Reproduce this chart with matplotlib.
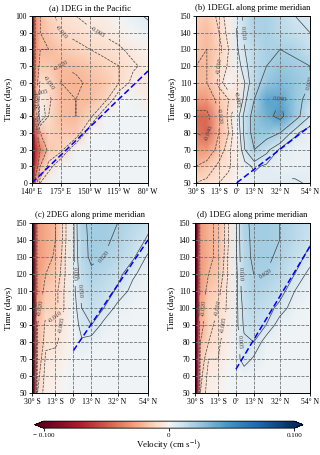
import matplotlib
matplotlib.use('Agg')
import matplotlib.pyplot as plt
from matplotlib.colors import ListedColormap
import numpy as np

plt.rcParams['font.family'] = ['Liberation Serif', 'DejaVu Serif']
plt.rcParams['mathtext.fontset'] = 'stix'

# ---- data (velocity in cm/s on a coarse grid) ----
lon_a = [140, 141.5, 144, 150, 160, 175, 193, 210, 228, 245, 262, 280]
days_a = [0, 10, 20, 30, 40, 50, 60, 70, 80, 90, 100]
vel_a = [
    [-0.15, -0.12, -0.03, -0.005, 0.001, 0.001, 0.001, 0.001, 0.001, 0.001, 0.001, 0.001],
    [-0.15, -0.12, -0.06, -0.02, -0.008, 0.001, 0.001, 0.001, 0.001, 0.001, 0.001, 0.001],
    [-0.15, -0.12, -0.07, -0.04, -0.015, -0.012, 0.001, 0.001, 0.001, 0.001, 0.001, 0.001],
    [-0.15, -0.12, -0.05, -0.02, -0.012, -0.015, -0.015, 0.000, 0.001, 0.001, 0.001, 0.001],
    [-0.15, -0.12, -0.03, 0.003, -0.01, -0.018, -0.02, -0.012, 0.001, 0.001, 0.001, 0.001],
    [-0.15, -0.12, -0.03, -0.003, -0.008, -0.018, -0.02, -0.018, -0.012, 0.000, 0.001, -0.003],
    [-0.15, -0.12, -0.03, -0.008, -0.01, -0.02, -0.022, -0.018, -0.015, -0.01, -0.003, -0.004],
    [-0.15, -0.12, -0.035, -0.015, -0.015, -0.02, -0.018, -0.015, -0.012, -0.01, -0.006, -0.003],
    [-0.15, -0.12, -0.035, -0.02, -0.02, -0.015, -0.012, -0.01, -0.008, -0.006, -0.003, -0.001],
    [-0.15, -0.12, -0.035, -0.02, -0.015, -0.01, -0.008, -0.006, -0.004, -0.002, 0.000, 0.002],
    [-0.15, -0.12, -0.035, -0.02, -0.012, -0.008, -0.005, -0.003, -0.002, 0.000, 0.003, 0.006],
]
front_a = ([140, 280], [0, 67])

lat_b = [-30, -22, -13, -6, 0, 6, 13, 22, 32, 43, 54]
days_b = [50, 60, 70, 80, 90, 100, 110, 120, 130, 140, 150]
vel_b = [
    [-0.01, -0.008, -0.005, -0.003, 0.0, 0.002, 0.003, 0.004, 0.006, 0.006, 0.004],
    [-0.02, -0.015, -0.008, -0.006, -0.002, 0.003, 0.006, 0.004, 0.002, 0.002, 0.002],
    [-0.03, -0.03, -0.015, -0.006, -0.002, 0.01, 0.02, 0.012, 0.004, 0.002, 0.002],
    [-0.04, -0.045, -0.02, -0.01, 0.0, 0.012, 0.025, 0.025, 0.02, 0.006, 0.002],
    [-0.045, -0.045, -0.02, -0.008, 0.002, 0.012, 0.025, 0.035, 0.045, 0.025, 0.01],
    [-0.03, -0.03, -0.015, -0.01, -0.005, 0.008, 0.02, 0.04, 0.04, 0.025, 0.015],
    [-0.02, -0.02, -0.008, 0.0, -0.004, 0.005, 0.015, 0.025, 0.03, 0.025, 0.02],
    [-0.02, -0.02, -0.01, -0.004, 0.002, 0.008, 0.015, 0.02, 0.025, 0.022, 0.02],
    [-0.015, -0.02, -0.012, -0.005, 0.004, 0.01, 0.015, 0.02, 0.02, 0.018, 0.012],
    [-0.015, -0.018, -0.01, -0.003, 0.005, 0.012, 0.018, 0.02, 0.015, 0.012, 0.01],
    [-0.012, -0.015, -0.008, -0.002, 0.005, 0.012, 0.02, 0.02, 0.015, 0.01, 0.008],
]
front_b = ([0, 54], [50, 84])

lat_cd = [-30, -28.5, -26, -20, -13, -6, 0, 6, 13, 22, 32, 43, 54]
days_cd = [50, 60, 70, 80, 90, 100, 110, 120, 130, 140, 150]
vel_c = [
    [-0.15, -0.1, -0.01, -0.002, -0.001, 0.0, 0.001, 0.001, 0.001, 0.001, 0.001, 0.001, 0.001],
    [-0.15, -0.1, -0.012, -0.003, -0.002, 0.0, 0.001, 0.001, 0.001, 0.001, 0.001, 0.001, 0.001],
    [-0.15, -0.1, -0.015, -0.004, -0.003, -0.001, 0.001, 0.001, 0.001, 0.001, 0.001, 0.001, 0.001],
    [-0.15, -0.1, -0.02, -0.006, -0.006, -0.002, 0.0, 0.004, 0.002, 0.001, 0.001, 0.001, 0.001],
    [-0.15, -0.1, -0.02, -0.008, -0.008, -0.003, 0.0, 0.008, 0.01, 0.003, 0.001, 0.001, 0.001],
    [-0.15, -0.1, -0.025, -0.012, -0.012, -0.004, 0.002, 0.01, 0.012, 0.01, 0.003, 0.001, 0.001],
    [-0.15, -0.1, -0.03, -0.015, -0.012, -0.004, 0.003, 0.012, 0.015, 0.013, 0.009, 0.003, 0.001],
    [-0.15, -0.1, -0.03, -0.02, -0.015, -0.005, 0.003, 0.014, 0.018, 0.016, 0.012, 0.006, 0.002],
    [-0.15, -0.1, -0.03, -0.025, -0.018, -0.005, 0.004, 0.016, 0.022, 0.02, 0.016, 0.011, 0.004],
    [-0.15, -0.1, -0.03, -0.025, -0.02, -0.006, 0.004, 0.017, 0.022, 0.022, 0.018, 0.014, 0.009],
    [-0.15, -0.1, -0.03, -0.025, -0.02, -0.006, 0.004, 0.018, 0.022, 0.022, 0.02, 0.016, 0.012],
]
front_c = ([0, 54], [75, 140])
vel_d = [
    [-0.15, -0.1, -0.01, -0.002, -0.001, 0.0, 0.001, 0.001, 0.001, 0.001, 0.001, 0.001, 0.001],
    [-0.15, -0.1, -0.012, -0.003, -0.002, 0.0, 0.001, 0.001, 0.001, 0.001, 0.001, 0.001, 0.001],
    [-0.15, -0.1, -0.015, -0.005, -0.005, -0.001, 0.002, 0.008, 0.004, 0.001, 0.001, 0.001, 0.001],
    [-0.15, -0.1, -0.02, -0.01, -0.006, -0.002, 0.002, 0.009, 0.01, 0.002, 0.001, 0.001, 0.001],
    [-0.15, -0.1, -0.025, -0.012, -0.008, -0.003, 0.003, 0.011, 0.013, 0.01, 0.002, 0.001, 0.001],
    [-0.15, -0.1, -0.025, -0.012, -0.01, -0.004, 0.003, 0.012, 0.015, 0.013, 0.008, 0.002, 0.001],
    [-0.15, -0.1, -0.03, -0.015, -0.012, -0.004, 0.003, 0.014, 0.018, 0.016, 0.013, 0.005, 0.002],
    [-0.15, -0.1, -0.03, -0.02, -0.015, -0.005, 0.003, 0.015, 0.02, 0.02, 0.016, 0.01, 0.003],
    [-0.15, -0.1, -0.03, -0.022, -0.018, -0.005, 0.004, 0.016, 0.022, 0.022, 0.018, 0.013, 0.008],
    [-0.15, -0.1, -0.03, -0.022, -0.018, -0.006, 0.004, 0.017, 0.022, 0.022, 0.02, 0.015, 0.011],
    [-0.15, -0.1, -0.03, -0.022, -0.018, -0.006, 0.004, 0.018, 0.022, 0.022, 0.02, 0.016, 0.012],
]
front_d = ([0, 54], [64, 136])

xticks_a = [140, 175, 210, 245, 280]
xlabels_a = ['140° E', '175° E', '150° W', '115° W', '80° W']
xticks_lat = [-30, -13, 0, 13, 32, 54]
xlabels_lat = ['30° S', '13° S', '0°', '13° N', '32° N', '54° N']
levels = [-0.04, -0.02, -0.01, -0.005, 0.005, 0.01, 0.02, 0.04]

# RdBu stretched so weak values show more colour
s = np.linspace(-1, 1, 256)
cmap = ListedColormap(plt.get_cmap('RdBu')(0.5 + 0.5 * np.sign(s) * np.abs(s) ** 0.7))

fig = plt.figure(figsize=(3.2, 4.55), dpi=100)

def panel(rect, x, y, z, front, title, xt, xl, ylim, yt):
    ax = fig.add_axes(rect)
    z = np.array(z)
    pm = ax.pcolormesh(x, y, z, cmap=cmap, vmin=-0.1, vmax=0.1, shading='gouraud')
    cs = ax.contour(x, y, z, levels=levels, colors='0.25', linewidths=0.5)
    labs = ax.clabel(cs, fmt='%.3f', fontsize=4.5, inline=True)
    # drop labels that would sit on the frame
    span = ylim[1] - ylim[0]
    for t in labs:
        px, py = t.get_position()
        if py > ylim[1] - 0.06 * span or py < ylim[0] + 0.04 * span:
            t.remove()
    ax.plot(front[0], front[1], color='blue', ls=(0, (4, 2)), lw=1.1)
    ax.grid(True, color='0.45', ls='--', lw=0.6)
    ax.set_xlim(x[0], x[-1])
    ax.set_ylim(ylim)
    ax.set_xticks(xt)
    ax.set_xticklabels(xl)
    ax.set_yticks(yt)
    ax.tick_params(labelsize=5.5, length=2, width=0.6, pad=1.5)
    ax.set_ylabel('Time (days)', fontsize=6.5, labelpad=2)
    ax.set_title(title, fontsize=6.2, pad=4)
    for sp in ax.spines.values():
        sp.set_linewidth(0.7)
    return pm

pm = panel([0.100, 0.598, 0.3625, 0.367], lon_a, days_a, vel_a, front_a,
           '(a) 1DEG in the Pacific', xticks_a, xlabels_a, (0, 100), range(0, 101, 10))
panel([0.6125, 0.598, 0.356, 0.367], lat_b, days_b, vel_b, front_b,
      '(b) 1DEGL along prime meridian', xticks_lat, xlabels_lat, (50, 150), range(50, 151, 10))
panel([0.100, 0.136, 0.3625, 0.374], lat_cd, days_cd, vel_c, front_c,
      '(c) 2DEG along prime meridian', xticks_lat, xlabels_lat, (50, 150), range(50, 151, 10))
panel([0.609, 0.136, 0.359, 0.374], lat_cd, days_cd, vel_d, front_d,
      '(d) 1DEG along prime meridian', xticks_lat, xlabels_lat, (50, 150), range(50, 151, 10))

cax = fig.add_axes([0.109, 0.059, 0.838, 0.0154])
cb = fig.colorbar(pm, cax=cax, orientation='horizontal', extend='both', extendfrac=0.035)
cb.set_ticks([-0.1, 0, 0.1])
cb.set_ticklabels(['\u2212 0.100', '0', '0.100'])
cb.ax.tick_params(labelsize=5, length=2, width=0.6, pad=1.5)
cb.set_label('Velocity (cm s$^{-1}$)', fontsize=6.5, labelpad=1)
cb.outline.set_linewidth(0.6)

fig.savefig('out.png', dpi=100)
